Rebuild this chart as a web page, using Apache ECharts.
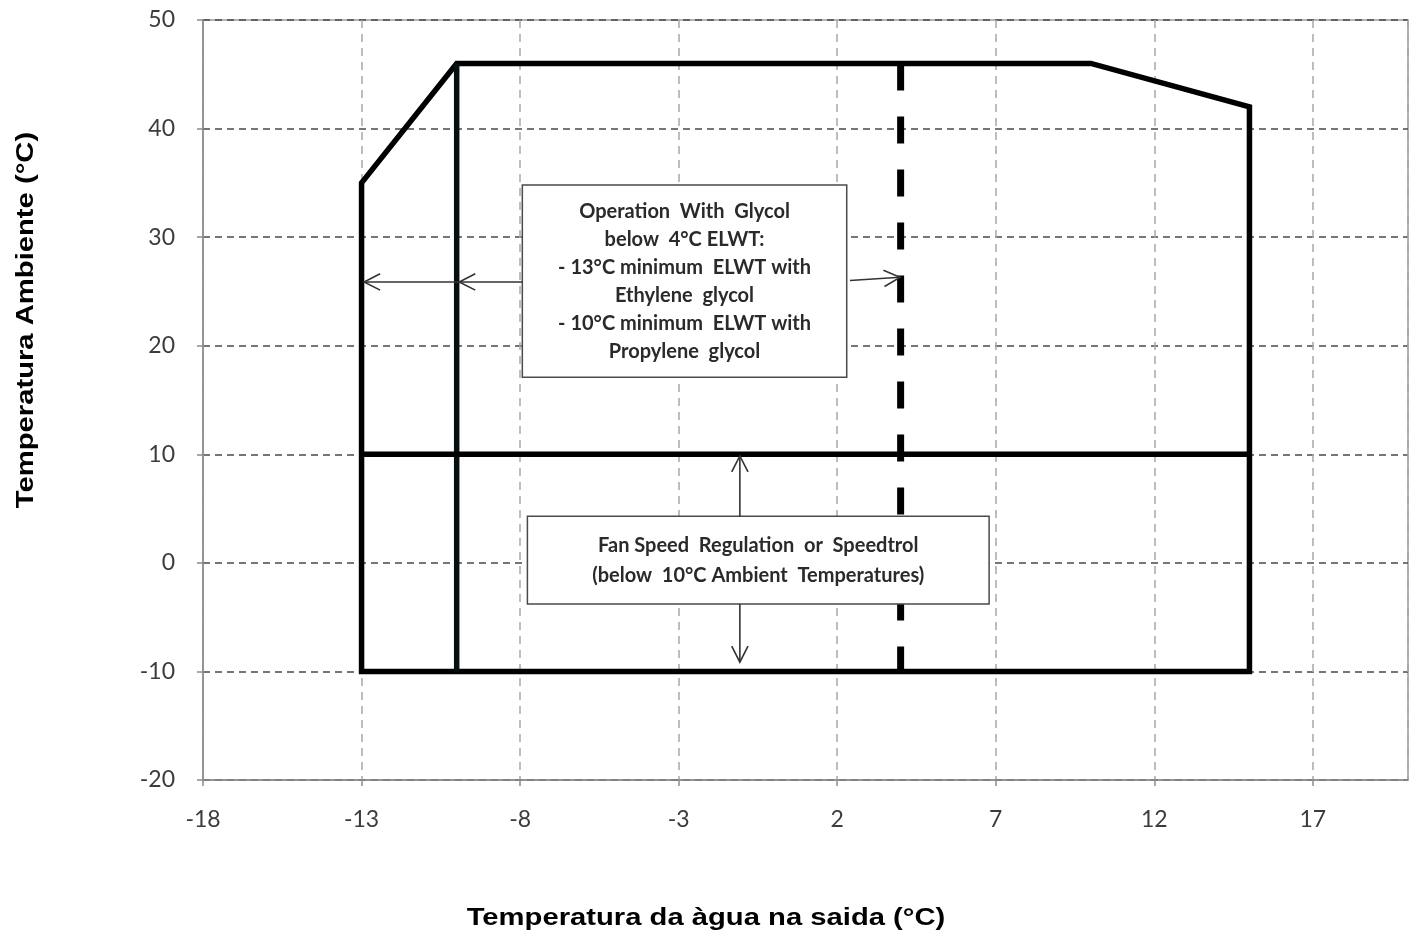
<!DOCTYPE html>
<html><head><meta charset="utf-8">
<script src="https://cdn.jsdelivr.net/npm/echarts@6/dist/echarts.min.js"></script>
<style>html,body{margin:0;padding:0;background:#fff}#c{width:1416px;height:936px}</style>
</head><body><div id="c"></div>
<script>
// Axis ticks
const xTicks = [-18, -13, -8, -3, 2, 7, 12, 17];
const yTicks = [-20, -10, 0, 10, 20, 30, 40, 50];
const xRange = [-18, 20];
const yRange = [-20, 50];
// Operating envelope (x: leaving water temp, y: ambient temp)
const envelope = [[-13, -10], [-13, 35], [-10, 46], [10, 46], [15, 42], [15, -10], [-13, -10]];
const glycolLimit = [[-10, -10], [-10, 46]];
const fanLimit = [[-13, 10], [15, 10]];
const elwtLimit = [[4, 46], [4, -10]];
// Annotation boxes [x1, y1, x2, y2]
const boxes = [[-7.93, 34.8, 2.3, 17.1], [-7.77, 4.3, 6.79, -3.8]];
const boxTexts = [
  ['Operation  With  Glycol', 'below  4°C ELWT:', '- 13°C minimum  ELWT with', 'Ethylene  glycol', '- 10°C minimum  ELWT with', 'Propylene  glycol'],
  ['Fan Speed  Regulation  or  Speedtrol', '(below  10°C Ambient  Temperatures)']
];
// Arrows [fromX, fromY, toX, toY]
const arrows = [
  [-7.93, 25.87, -9.92, 25.87],
  [-9.92, 25.87, -12.92, 25.87],
  [2.4, 26.0, 3.98, 26.3],
  [-1.07, 4.3, -1.07, 9.85],
  [-1.07, -3.8, -1.07, -9.15]
];

const chart = echarts.init(document.getElementById('c'), null, {renderer: 'canvas'});
const lab = {fontFamily: 'Lato', fontSize: 23, color: '#3c3c3c'};
const thick = {color: '#000', width: 5.5, join: 'miter', cap: 'square'};

chart.setOption({
  animation: false,
  backgroundColor: '#fff',
  grid: {left: 203, right: 8, top: 20, bottom: 156, show: true, borderColor: '#9a9a9a', borderWidth: 1.5, backgroundColor: 'transparent'},
  xAxis: {
    type: 'value', min: xRange[0], max: xRange[1], interval: 5,
    axisLine: {show: true, onZero: false, lineStyle: {color: '#8c8c8c', width: 1.5}},
    axisTick: {show: true, inside: false, length: 6, lineStyle: {color: '#8c8c8c', width: 1.5}},
    axisLabel: Object.assign({margin: 28, showMaxLabel: false, formatter: v => xTicks.includes(v) ? String(v) : ''}, lab),
    splitLine: {show: true, lineStyle: {color: '#a8a8a8', width: 1.5, type: [8, 6]}}
  },
  yAxis: {
    type: 'value', min: yRange[0], max: yRange[1], interval: 10,
    axisLine: {show: true, onZero: false, lineStyle: {color: '#8c8c8c', width: 1.5}},
    axisTick: {show: true, inside: false, length: 6, lineStyle: {color: '#8c8c8c', width: 1.5}},
    axisLabel: Object.assign({margin: 28, formatter: v => yTicks.includes(v) ? String(v) : ''}, lab),
    splitLine: {show: true, lineStyle: {color: '#4a4a4a', width: 1.5, type: [7, 5]}}
  },
  graphic: [
    {type: 'text', x: 27, y: 320, rotation: Math.PI / 2, scaleX: 1.27,
     style: {text: 'Temperatura Ambiente (°C)', font: 'bold 23px "Liberation Sans"', fill: '#000', align: 'center', verticalAlign: 'middle'}},
    {type: 'text', x: 706, y: 919, scaleX: 1.27,
     style: {text: 'Temperatura da àgua na saida (°C)', font: 'bold 23px "Liberation Sans"', fill: '#000', align: 'center', verticalAlign: 'middle'}}
  ],
  series: [
    {type: 'line', data: envelope, showSymbol: false, lineStyle: thick, z: 3},
    {type: 'line', data: glycolLimit, showSymbol: false, lineStyle: {color: '#061010', width: 5.5, cap: 'butt'}, z: 3},
    {type: 'line', data: fanLimit, showSymbol: false, lineStyle: {color: '#000', width: 5.5, cap: 'butt'}, z: 3},
    {type: 'line', data: elwtLimit, showSymbol: false, lineStyle: {color: '#000', width: 7, type: [27, 26], cap: 'butt'}, z: 3},
    {type: 'custom', z: 5, data: boxes, encode: {x: [0, 2], y: [1, 3]},
     renderItem: function (params, api) {
       const p1 = api.coord([api.value(0), api.value(1)]);
       const p2 = api.coord([api.value(2), api.value(3)]);
       const t = boxTexts[params.dataIndex];
       return {type: 'group', children: [
         {type: 'rect', shape: {x: Math.min(p1[0], p2[0]), y: Math.min(p1[1], p2[1]), width: Math.abs(p2[0] - p1[0]), height: Math.abs(p2[1] - p1[1])},
          style: {fill: '#fff', stroke: '#4a4a4a', lineWidth: 1.5}},
         {type: 'text', x: (p1[0] + p2[0]) / 2, y: (p1[1] + p2[1]) / 2,
          style: {text: t.join('\n'), fill: '#2a2a2a', font: 'bold 20px Lato', align: 'center', verticalAlign: 'middle', lineHeight: t.length > 2 ? 28 : 30}}
       ]};
     }},
    {type: 'custom', z: 6, data: arrows, encode: {x: [0, 2], y: [1, 3]},
     renderItem: function (params, api) {
       const p1 = api.coord([api.value(0), api.value(1)]);
       const p2 = api.coord([api.value(2), api.value(3)]);
       const ang = Math.atan2(p2[1] - p1[1], p2[0] - p1[0]);
       const L = 18, a = 0.47;
       const h1 = [p2[0] - L * Math.cos(ang - a), p2[1] - L * Math.sin(ang - a)];
       const h2 = [p2[0] - L * Math.cos(ang + a), p2[1] - L * Math.sin(ang + a)];
       return {type: 'group', children: [
         {type: 'line', shape: {x1: p1[0], y1: p1[1], x2: p2[0], y2: p2[1]}, style: {stroke: '#333', lineWidth: 1.6}},
         {type: 'polyline', shape: {points: [h1, p2, h2]}, style: {stroke: '#333', lineWidth: 1.6, fill: null}}
       ]};
     }}
  ]
});
</script>
</body></html>
